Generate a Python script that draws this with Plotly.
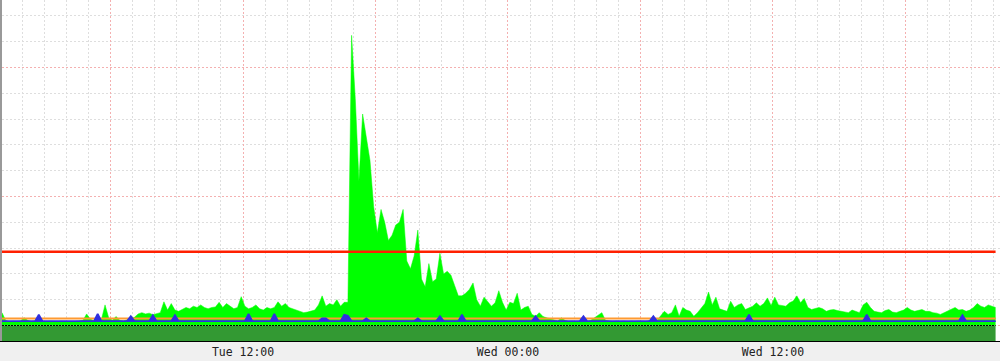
import pandas as pd
import plotly.graph_objects as go

# 10-minute samples, Tue 01:05 .. Wed 22:05
times = pd.date_range("2024-01-02 01:05", periods=271, freq="10min")

traffic = [
    0.50, 0.20, 0.15, 0.17, 0.16, 0.18,
    0.30, 0.20, 0.16, 0.18, 0.20, 0.16,
    0.15, 0.17, 0.16, 0.15, 0.17, 0.16,
    0.17, 0.15, 0.16, 0.18, 0.20, 0.45,
    0.25, 0.18, 0.20, 0.22, 0.80, 0.30,
    0.20, 0.35, 0.20, 0.18, 0.22, 0.28,
    0.32, 0.45, 0.50, 0.45, 0.48, 0.42,
    0.45, 0.50, 0.92, 0.60, 0.85, 0.60,
    0.55, 0.62, 0.70, 0.65, 0.75, 0.70,
    0.80, 0.70, 0.65, 0.70, 0.72, 0.90,
    0.70, 0.85, 0.75, 0.65, 0.70, 1.12,
    0.75, 0.65, 0.70, 0.80, 0.65, 0.60,
    0.70, 0.65, 0.70, 0.92, 0.75, 0.85,
    0.70, 0.65, 0.62, 0.55, 0.50, 0.52,
    0.55, 0.60, 0.80, 1.15, 0.75, 0.85,
    0.80, 1.00, 0.75, 0.90, 0.90, 11.25,
    8.80, 5.60, 8.20, 7.30, 6.40, 4.60,
    3.60, 4.50, 4.00, 3.30, 3.50, 3.90,
    4.00, 4.50, 2.50, 2.20, 2.70, 3.70,
    1.80, 1.50, 2.40, 1.70, 1.80, 2.80,
    2.00, 2.10, 1.95, 1.55, 1.15, 1.15,
    1.25, 1.40, 1.65, 1.00, 0.75, 1.10,
    0.90, 0.75, 0.88, 1.35, 0.90, 0.60,
    0.90, 0.85, 1.25, 0.60, 0.70, 0.75,
    0.43, 0.36, 0.50, 0.35, 0.30, 0.25,
    0.20, 0.18, 0.30, 0.20, 0.17, 0.18,
    0.16, 0.18, 0.20, 0.17, 0.20, 0.30,
    0.40, 0.50, 0.20, 0.17, 0.16, 0.18,
    0.16, 0.17, 0.15, 0.17, 0.16, 0.18,
    0.17, 0.16, 0.20, 0.25, 0.20, 0.40,
    0.55, 0.43, 0.50, 0.80, 0.36, 0.70,
    0.60, 0.55, 0.36, 0.50, 0.70, 0.85,
    1.30, 0.80, 1.10, 0.65, 0.60, 0.55,
    0.94, 0.70, 0.80, 0.85, 0.62, 0.70,
    0.75, 0.88, 0.75, 0.85, 1.07, 0.78,
    1.10, 0.80, 0.78, 0.75, 0.88, 0.95,
    1.15, 0.88, 1.05, 0.70, 0.62, 0.65,
    0.70, 0.65, 0.55, 0.60, 0.62, 0.58,
    0.55, 0.52, 0.50, 0.60, 0.55, 0.50,
    0.80, 0.90, 0.70, 0.55, 0.52, 0.50,
    0.58, 0.62, 0.52, 0.50, 0.55, 0.60,
    0.70, 0.60, 0.55, 0.60, 0.62, 0.55,
    0.55, 0.50, 0.48, 0.43, 0.50, 0.55,
    0.65, 0.70, 0.60, 0.62, 0.55, 0.60,
    0.70, 0.85, 0.75, 0.70, 0.80, 0.75,
    0.70,
]

secondary = [
    0.17, 0.17, 0.17, 0.17, 0.17, 0.17,
    0.17, 0.17, 0.17, 0.17, 0.42, 0.17,
    0.17, 0.17, 0.17, 0.17, 0.17, 0.17,
    0.17, 0.17, 0.17, 0.17, 0.17, 0.17,
    0.17, 0.17, 0.45, 0.17, 0.17, 0.17,
    0.17, 0.17, 0.17, 0.17, 0.17, 0.36,
    0.17, 0.17, 0.17, 0.17, 0.17, 0.40,
    0.17, 0.17, 0.17, 0.17, 0.17, 0.40,
    0.17, 0.17, 0.17, 0.17, 0.17, 0.17,
    0.17, 0.17, 0.17, 0.17, 0.17, 0.17,
    0.17, 0.17, 0.17, 0.17, 0.17, 0.17,
    0.17, 0.45, 0.17, 0.17, 0.17, 0.17,
    0.17, 0.17, 0.45, 0.17, 0.17, 0.17,
    0.17, 0.17, 0.17, 0.17, 0.17, 0.17,
    0.17, 0.17, 0.17, 0.28, 0.28, 0.17,
    0.17, 0.17, 0.17, 0.42, 0.38, 0.17,
    0.17, 0.17, 0.17, 0.28, 0.17, 0.17,
    0.17, 0.17, 0.17, 0.17, 0.17, 0.17,
    0.17, 0.17, 0.17, 0.17, 0.17, 0.28,
    0.17, 0.17, 0.17, 0.17, 0.17, 0.36,
    0.17, 0.17, 0.17, 0.17, 0.17, 0.42,
    0.17, 0.17, 0.17, 0.17, 0.17, 0.17,
    0.17, 0.17, 0.17, 0.17, 0.17, 0.17,
    0.17, 0.17, 0.17, 0.17, 0.17, 0.17,
    0.17, 0.36, 0.17, 0.17, 0.17, 0.17,
    0.17, 0.17, 0.17, 0.17, 0.17, 0.17,
    0.17, 0.17, 0.36, 0.17, 0.17, 0.17,
    0.17, 0.17, 0.17, 0.17, 0.17, 0.17,
    0.17, 0.17, 0.17, 0.17, 0.17, 0.17,
    0.17, 0.17, 0.17, 0.36, 0.17, 0.17,
    0.17, 0.17, 0.17, 0.17, 0.17, 0.17,
    0.17, 0.17, 0.17, 0.17, 0.17, 0.17,
    0.17, 0.17, 0.17, 0.17, 0.17, 0.17,
    0.17, 0.17, 0.17, 0.17, 0.17, 0.42,
    0.17, 0.17, 0.17, 0.17, 0.17, 0.17,
    0.17, 0.17, 0.17, 0.17, 0.17, 0.17,
    0.17, 0.17, 0.17, 0.17, 0.17, 0.17,
    0.17, 0.17, 0.17, 0.17, 0.17, 0.17,
    0.17, 0.17, 0.17, 0.17, 0.17, 0.17,
    0.17, 0.42, 0.17, 0.17, 0.17, 0.17,
    0.17, 0.17, 0.17, 0.17, 0.17, 0.17,
    0.17, 0.17, 0.17, 0.17, 0.17, 0.17,
    0.17, 0.17, 0.17, 0.17, 0.17, 0.17,
    0.17, 0.17, 0.17, 0.40, 0.17, 0.17,
    0.17, 0.17, 0.17, 0.17, 0.17, 0.17,
    0.17,
]

base_level = -0.62      # dark green band below zero
secondary_floor = 0.14  # lower edge of the blue band
average_level = 0.27    # orange line
threshold_level = 2.86  # red line

tick_vals = ["2024-01-02 06:00", "2024-01-02 12:00", "2024-01-02 18:00",
             "2024-01-03 00:00", "2024-01-03 06:00", "2024-01-03 12:00",
             "2024-01-03 18:00"]
tick_text = ["", "Tue 12:00", "", "Wed 00:00", "", "Wed 12:00", ""]

n = len(times)
fig = go.Figure()
fig.add_trace(go.Scatter(x=times, y=[base_level] * n, mode="lines",
                         fill="tozeroy", fillcolor="#339933",
                         line=dict(width=0, color="#339933"), hoverinfo="skip"))
fig.add_trace(go.Scatter(x=times, y=traffic, mode="lines", fill="tozeroy",
                         fillcolor="#00ff00",
                         line=dict(width=0.5, color="#00ff00"), hoverinfo="skip"))
fig.add_trace(go.Scatter(x=times, y=[0] * n, mode="lines",
                         line=dict(width=1, color="#000000", dash="2px,1px"),
                         hoverinfo="skip"))
fig.add_trace(go.Scatter(x=times, y=[average_level] * n, mode="lines",
                         line=dict(width=2, color="#ff9a30"), hoverinfo="skip"))
fig.add_trace(go.Scatter(x=times, y=[secondary_floor] * n, mode="lines",
                         line=dict(width=0, color="rgba(0,0,0,0)"),
                         hoverinfo="skip"))
fig.add_trace(go.Scatter(x=times, y=secondary, mode="lines", fill="tonexty",
                         fillcolor="#2f2fe0",
                         line=dict(width=1.8, color="#2f2fe0"), hoverinfo="skip"))
fig.add_trace(go.Scatter(x=times, y=[threshold_level] * n, mode="lines",
                         line=dict(width=2.5, color="#ff2000"), hoverinfo="skip"))

fig.update_layout(
    width=1000, height=361,
    margin=dict(l=2, r=0, t=0, b=20),
    paper_bgcolor="#f0f0f0", plot_bgcolor="#ffffff",
    showlegend=False,
)
fig.update_xaxes(
    range=["2024-01-02 01:05", "2024-01-03 22:17"],
    tickmode="array", tickvals=tick_vals, ticktext=tick_text,
    showgrid=True, gridcolor="#f4b0b0", griddash="2px,2px", gridwidth=1,
    minor=dict(dtick=3600000, tick0="2024-01-02 00:00", showgrid=True,
               gridcolor="#dedede", griddash="2px,2px", gridwidth=1),
    showline=True, linecolor="#000000", linewidth=1,
    ticks="", zeroline=False,
    tickfont=dict(family="DejaVu Sans Mono", size=11.5, color="#222222"),
)
fig.update_yaxes(
    range=[-0.60, 12.62],
    tickmode="array", tickvals=[0, 5, 10], showticklabels=False,
    showgrid=True, gridcolor="#f4b0b0", griddash="2px,2px", gridwidth=1,
    minor=dict(dtick=1, tick0=0, showgrid=True,
               gridcolor="#dedede", griddash="2px,2px", gridwidth=1),
    showline=True, linecolor="#999999", linewidth=2,
    ticks="", zeroline=False,
)

fig.write_html("out.html")
